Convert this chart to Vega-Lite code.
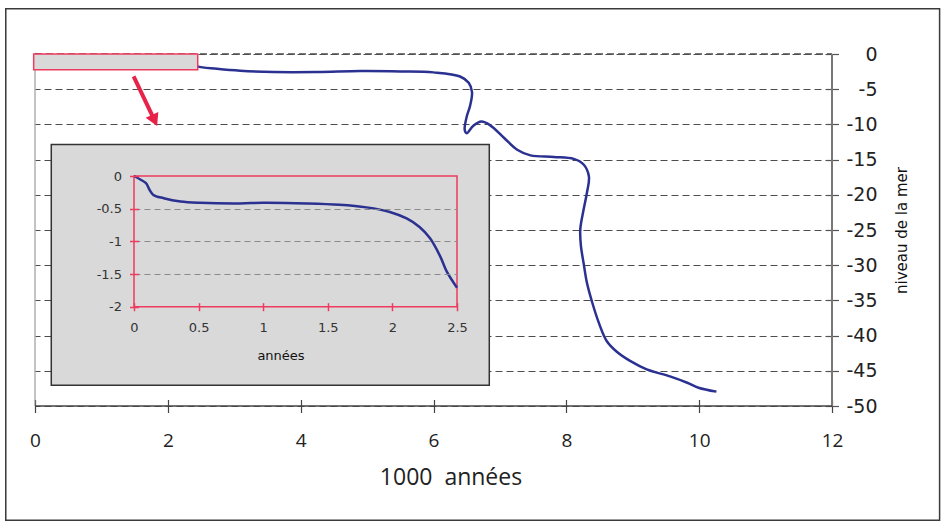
{
  "$schema": "https://vega.github.io/schema/vega-lite/v6.json",
  "width": 797,
  "height": 352,
  "autosize": {"type": "none"},
  "padding": {"left": 35, "top": 54, "right": 109, "bottom": 117},
  "background": "white",
  "config": {"view": {"stroke": null}, "font": "DejaVu Sans"},
  "datasets": {
    "main": [
      {"t": 0, "x": 0, "y": 0},
      {"t": 1, "x": 0.15, "y": -0.29},
      {"t": 2, "x": 0.5, "y": -0.41},
      {"t": 3, "x": 1.0, "y": -0.41},
      {"t": 4, "x": 1.6, "y": -0.44},
      {"t": 5, "x": 2.0, "y": -0.56},
      {"t": 6, "x": 2.25, "y": -0.85},
      {"t": 7, "x": 2.44, "y": -1.76},
      {"t": 8, "x": 2.74, "y": -2.09},
      {"t": 9, "x": 3.09, "y": -2.37},
      {"t": 10, "x": 3.59, "y": -2.56},
      {"t": 11, "x": 4.25, "y": -2.56},
      {"t": 12, "x": 4.9, "y": -2.42},
      {"t": 13, "x": 5.5, "y": -2.47},
      {"t": 14, "x": 6.0, "y": -2.61},
      {"t": 15, "x": 6.4, "y": -3.2},
      {"t": 16, "x": 6.53, "y": -4.1},
      {"t": 17, "x": 6.58, "y": -5.4},
      {"t": 18, "x": 6.55, "y": -7.4},
      {"t": 19, "x": 6.5, "y": -8.9},
      {"t": 20, "x": 6.47, "y": -10.8},
      {"t": 21, "x": 6.5, "y": -11.25},
      {"t": 22, "x": 6.6, "y": -10.2},
      {"t": 23, "x": 6.72, "y": -9.6},
      {"t": 24, "x": 6.85, "y": -10.1},
      {"t": 25, "x": 7.06, "y": -11.9},
      {"t": 26, "x": 7.26, "y": -13.6},
      {"t": 27, "x": 7.46, "y": -14.4},
      {"t": 28, "x": 7.81, "y": -14.62},
      {"t": 29, "x": 8.11, "y": -14.9},
      {"t": 30, "x": 8.26, "y": -15.7},
      {"t": 31, "x": 8.34, "y": -17.4},
      {"t": 32, "x": 8.31, "y": -19.7},
      {"t": 33, "x": 8.26, "y": -22.1},
      {"t": 34, "x": 8.21, "y": -24.9},
      {"t": 35, "x": 8.22, "y": -27.3},
      {"t": 36, "x": 8.26, "y": -29.7},
      {"t": 37, "x": 8.31, "y": -32.5},
      {"t": 38, "x": 8.39, "y": -35.3},
      {"t": 39, "x": 8.49, "y": -38.2},
      {"t": 40, "x": 8.61, "y": -40.8},
      {"t": 41, "x": 8.76, "y": -42.3},
      {"t": 42, "x": 8.96, "y": -43.6},
      {"t": 43, "x": 9.21, "y": -44.8},
      {"t": 44, "x": 9.56, "y": -45.8},
      {"t": 45, "x": 9.82, "y": -46.7},
      {"t": 46, "x": 9.99, "y": -47.4},
      {"t": 47, "x": 10.26, "y": -47.96}
    ],
    "inset": [
      {"t": 0, "x": 0, "y": 0},
      {"t": 1, "x": 0.046, "y": -0.05},
      {"t": 2, "x": 0.093, "y": -0.11},
      {"t": 3, "x": 0.12, "y": -0.21},
      {"t": 4, "x": 0.15, "y": -0.29},
      {"t": 5, "x": 0.23, "y": -0.34},
      {"t": 6, "x": 0.36, "y": -0.39},
      {"t": 7, "x": 0.51, "y": -0.41},
      {"t": 8, "x": 0.82, "y": -0.42},
      {"t": 9, "x": 1.0, "y": -0.41},
      {"t": 10, "x": 1.34, "y": -0.42},
      {"t": 11, "x": 1.59, "y": -0.44},
      {"t": 12, "x": 1.8, "y": -0.48},
      {"t": 13, "x": 1.98, "y": -0.55},
      {"t": 14, "x": 2.11, "y": -0.65},
      {"t": 15, "x": 2.21, "y": -0.78},
      {"t": 16, "x": 2.29, "y": -0.95},
      {"t": 17, "x": 2.37, "y": -1.23},
      {"t": 18, "x": 2.42, "y": -1.46},
      {"t": 19, "x": 2.5, "y": -1.71}
    ]
  },
  "layer": [
    {
      "encoding": {
        "x": {
          "field": "x", "type": "quantitative",
          "scale": {"domain": [0, 12], "nice": false, "zero": false},
          "axis": {
            "orient": "bottom", "values": [0, 2, 4, 6, 8, 10, 12], "tickCount": 30, "labelExpr": "toString(datum.value)",
            "offset": -6.5, "tickSize": 13, "labelFlush": false,
            "tickColor": "#444", "tickWidth": 1.2, "domain": false, "grid": false, "labelOverlap": false,
            "labelFont": "Open Sans", "labelFontSize": 19, "labelColor": "#222", "labelPadding": 19,
            "title": "1000\u00a0 années", "titleFont": "Open Sans", "titleFontSize": 23, "titleFontWeight": "normal",
            "titleColor": "#222", "titleX": 415.5, "titleY": 84.8, "titleBaseline": "alphabetic", "titleAlign": "center"
          }
        },
        "y": {
          "field": "y", "type": "quantitative",
          "scale": {"domain": [-50, 0], "nice": false, "zero": false},
          "axis": {
            "orient": "right", "values": [0, -5, -10, -15, -20, -25, -30, -35, -40, -45, -50], "tickCount": 30,
            "labelExpr": "toString(datum.value)", "labelOverlap": false, "labelFlush": false,
            "offset": -6.5, "tickSize": 13, "tickColor": "#555", "tickWidth": 1.2, "domain": false,
            "grid": true, "gridDash": [7, 4], "gridColor": "#4d4d4d", "gridWidth": 1.2,
            "labelFont": "DejaVu Sans", "labelFontSize": 19, "labelColor": "#222", "labelAlign": "right", "labelPadding": 38.5,
            "title": "niveau de la mer", "titleFont": "DejaVu Sans", "titleFontSize": 15, "titleFontWeight": "normal",
            "titleColor": "#111", "titleAngle": 270, "titleX": 76.2, "titleY": 176, "titleAlign": "center", "titleBaseline": "middle"
          }
        }
      },
      "layer": [
        {
          "data": {"values": [{"x": 0, "x2": 12, "y": 0}]},
          "mark": {"type": "rule", "color": "#4d4d4d", "strokeWidth": 1.5, "strokeDash": [7, 4]},
          "encoding": {"x2": {"field": "x2"}}
        },
        {
          "data": {"name": "main"},
          "mark": {"type": "line", "interpolate": "catmull-rom", "strokeWidth": 2.5, "color": "#2B3190"},
          "encoding": {"order": {"field": "t", "type": "quantitative"}}
        },
        {
          "data": {"values": [{"x": -0.44, "x2": 13.62, "y": 6.43, "y2": -66.22}]},
          "mark": {"type": "rect", "fill": null, "fillOpacity": 0, "stroke": "#3a3a3a", "strokeWidth": 1.5},
          "encoding": {"x2": {"field": "x2"}, "y2": {"field": "y2"}}
        },
        {
          "data": {"values": [{"x": 12, "y": -50, "y2": 0}]},
          "mark": {"type": "rule", "color": "#777", "strokeWidth": 2},
          "encoding": {"y2": {"field": "y2"}}
        },
        {
          "data": {"values": [{"x": 0, "y": -50, "y2": 0}]},
          "mark": {"type": "rule", "color": "#888", "strokeWidth": 1},
          "encoding": {"y2": {"field": "y2"}}
        },
        {
          "data": {"values": [{"x": 0, "x2": 12, "y": -50}]},
          "mark": {"type": "rule", "color": "#444", "strokeWidth": 1.5},
          "encoding": {"x2": {"field": "x2"}}
        },
        {
          "data": {"values": [{"x": -0.02, "x2": 2.45, "y": 0, "y2": -2.25}]},
          "mark": {"type": "rect", "fill": "#D9D9D9", "stroke": "#EE3B5F", "strokeWidth": 1.5},
          "encoding": {"x2": {"field": "x2"}, "y2": {"field": "y2"}}
        },
        {
          "data": {"values": [{"x": 1.485, "y": -3.18, "x2": 1.8, "y2": -9.43}]},
          "mark": {"type": "rule", "color": "#E8234A", "strokeWidth": 4},
          "encoding": {"x2": {"field": "x2"}, "y2": {"field": "y2"}}
        },
        {
          "data": {"values": [{"x": 1.8, "y": -9.43}]},
          "mark": {"type": "point", "shape": "triangle-up", "angle": 155, "size": 196, "filled": true, "opacity": 1, "color": "#E8234A"}
        },
        {
          "data": {"values": [{"x": 0.245, "x2": 6.84, "y": -12.87, "y2": -47.06}]},
          "mark": {"type": "rect", "fill": "#D9D9D9", "stroke": "#333", "strokeWidth": 1.5},
          "encoding": {"x2": {"field": "x2"}, "y2": {"field": "y2"}}
        }
      ]
    },
    {
      "encoding": {
        "x": {
          "field": "x", "type": "quantitative",
          "scale": {"domain": [0, 2.5], "range": [99, 422], "nice": false, "zero": false},
          "axis": {
            "orient": "bottom", "values": [0, 0.5, 1, 1.5, 2, 2.5], "tickCount": 30, "labelExpr": "toString(datum.value)",
            "offset": -103.3, "tickSize": 8, "labelOverlap": false, "labelFlush": false,
            "tickColor": "#EE3B5F", "tickWidth": 1.5, "domain": false, "grid": false, "zindex": 1,
            "labelFont": "DejaVu Sans", "labelFontSize": 13, "labelColor": "#333", "labelPadding": 11,
            "title": "années", "titleFont": "DejaVu Sans", "titleFontSize": 13, "titleFontWeight": "normal",
            "titleColor": "#111", "titleX": 245.5, "titleY": 56.6, "titleBaseline": "alphabetic", "titleAlign": "center"
          }
        },
        "y": {
          "field": "y", "type": "quantitative",
          "scale": {"domain": [-2, 0], "range": [252.7, 122], "nice": false, "zero": false},
          "axis": {
            "orient": "left", "values": [0, -0.5, -1, -1.5, -2], "tickCount": 30, "labelExpr": "toString(datum.value)",
            "offset": -103.5, "tickSize": 9, "labelOverlap": false, "labelFlush": false,
            "tickColor": "#EE3B5F", "tickWidth": 1.5, "domain": false, "zindex": 1,
            "grid": true, "gridDash": [6, 4], "gridWidth": 1.2,
            "gridColor": {"condition": {"test": "datum.value === 0 || datum.value === -2", "value": "transparent"}, "value": "#8a8a8a"},
            "labelFont": "DejaVu Sans", "labelFontSize": 13, "labelColor": "#333", "labelPadding": 8,
            "title": ""
          }
        }
      },
      "layer": [
        {
          "data": {"values": [{"x": 0, "x2": 2.5, "y": 0, "y2": -2}]},
          "mark": {"type": "rect", "fill": null, "fillOpacity": 0, "stroke": "#EE3B5F", "strokeWidth": 1.5},
          "encoding": {"x2": {"field": "x2"}, "y2": {"field": "y2"}}
        },
        {
          "data": {"name": "inset"},
          "mark": {"type": "line", "interpolate": "catmull-rom", "strokeWidth": 2.5, "color": "#2B3190"},
          "encoding": {"order": {"field": "t", "type": "quantitative"}}
        }
      ]
    }
  ],
  "resolve": {"scale": {"x": "independent", "y": "independent"}}
}
